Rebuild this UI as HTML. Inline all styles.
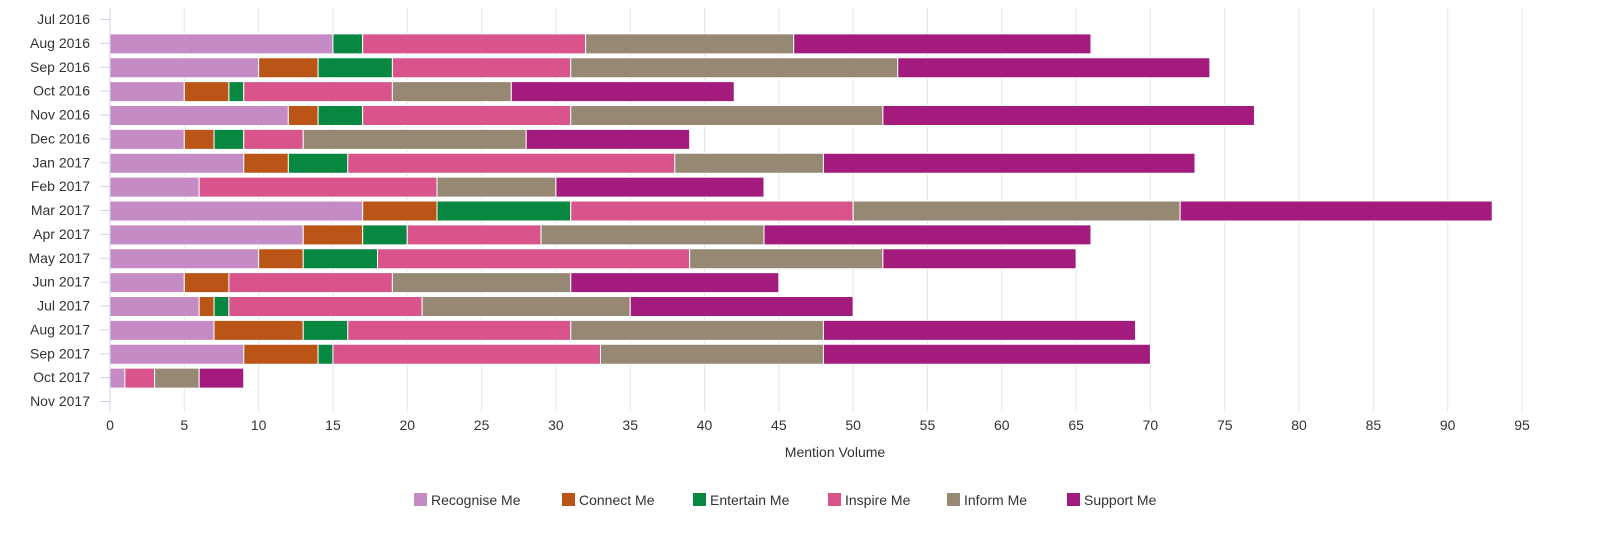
<!DOCTYPE html>
<html><head><meta charset="utf-8"><style>
html,body{margin:0;padding:0;background:#fff;}
svg{display:block;font-family:"Liberation Sans",Arial,sans-serif;}
</style></head><body>
<svg id="chart" width="1600" height="545">
<g id="grid"></g>
<g id="bars"></g>
<g id="yaxis"></g>
<g id="xaxis"></g>
<text x="835" y="457" text-anchor="middle" font-size="14" fill="#333">Mention Volume</text>
<g id="legend"></g>
</svg>
<script>
const categories = ["Jul 2016","Aug 2016","Sep 2016","Oct 2016","Nov 2016","Dec 2016","Jan 2017","Feb 2017","Mar 2017","Apr 2017","May 2017","Jun 2017","Jul 2017","Aug 2017","Sep 2017","Oct 2017","Nov 2017"];
const seriesNames = ["Recognise Me","Connect Me","Entertain Me","Inspire Me","Inform Me","Support Me"];
const recognise = [0,15,10,5,12,5,9,6,17,13,10,5,6,7,9,1,0];
const connect   = [0,0,4,3,2,2,3,0,5,4,3,3,1,6,5,0,0];
const entertain = [0,2,5,1,3,2,4,0,9,3,5,0,1,3,1,0,0];
const inspire   = [0,15,12,10,14,4,22,16,19,9,21,11,13,15,18,2,0];
const inform    = [0,14,22,8,21,15,10,8,22,15,13,12,14,17,15,3,0];
const support   = [0,20,21,15,25,11,25,14,21,22,13,14,15,21,22,3,0];
const xTicks = [0,5,10,15,20,25,30,35,40,45,50,55,60,65,70,75,80,85,90,95];

const seriesValues=[recognise,connect,entertain,inspire,inform,support];
const colors=["#c58bc4","#bb5417","#078740","#d8548a","#978873","#a31c7d"];
const NS="http://www.w3.org/2000/svg";
const x0=110,x1=1522,xMax=95;
const xs=v=>x0+(x1-x0)*v/xMax;
const yTop=19,step=(401-19)/(categories.length-1);
const ys=i=>yTop+i*step;
const barH=20;
function mk(t,a,p){const e=document.createElementNS(NS,t);for(const k in a)e.setAttribute(k,a[k]);p.appendChild(e);return e;}
const grid=document.getElementById('grid'),bars=document.getElementById('bars'),ya=document.getElementById('yaxis'),xa=document.getElementById('xaxis'),lg=document.getElementById('legend');
xTicks.forEach(t=>{
  if(t>0){const l=mk('line',{x1:xs(t),x2:xs(t),y1:8,y2:412,stroke:'#e6e6e6'},grid);
  
  }
  const tx=mk('text',{x:xs(t),y:430,'text-anchor':'middle','font-size':14,fill:'#333'},xa);tx.textContent=t;
  
  
});
const ax=mk('line',{x1:x0,x2:x0,y1:8,y2:412,stroke:'#ccd6eb'},ya);


categories.forEach((c,i)=>{
  const y=ys(i);
  const tk=mk('line',{x1:x0-10,x2:x0,y1:y+0.5+step/2-step/2,y2:y+0.5,stroke:'#ccd6eb'},ya);
  
  
  const tx=mk('text',{x:90,y:y+5,'text-anchor':'end','font-size':14,fill:'#333'},ya);tx.textContent=c;
  
  
  let acc=0;
  seriesValues.forEach((s,k)=>{
    const v=s[i];if(v>0){
      const r=mk('rect',{x:xs(acc),y:y-barH/2+1,width:xs(acc+v)-xs(acc),height:barH,fill:colors[k],stroke:'#fff','stroke-width':1},bars);
      
      
    }
    acc+=v;
  });
});
const lx=[414,562,693,828,947,1067];
seriesNames.forEach((n,k)=>{
  const g=mk('g',{},lg);
  
  
  mk('rect',{x:lx[k],y:493,width:13,height:13,fill:colors[k]},g);
  const t=mk('text',{x:lx[k]+17,y:505,'font-size':14,fill:'#333'},g);t.textContent=n;
});
</script>
</body></html>
